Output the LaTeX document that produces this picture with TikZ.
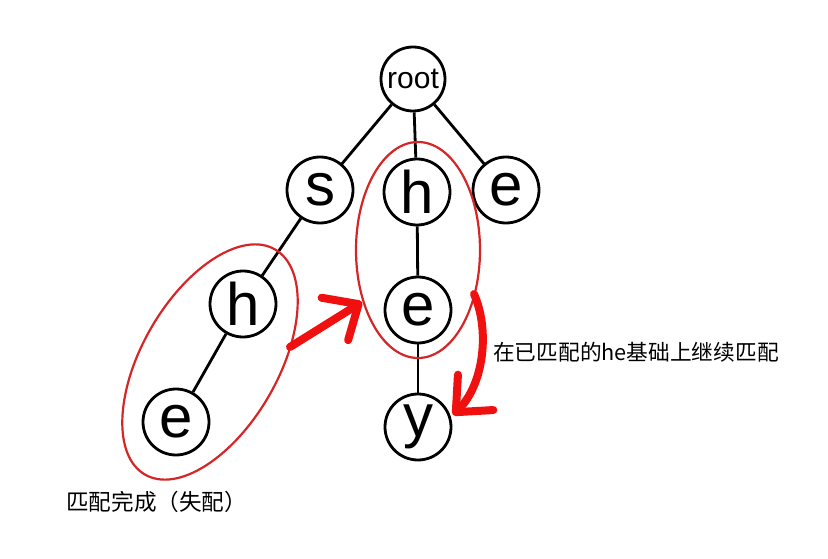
\documentclass[tikz,border=0pt]{standalone}
\usepackage{fontspec}
\setmainfont{Liberation Sans}
\newfontfamily\cjk{Noto Sans CJK SC}
\usetikzlibrary{arrows.meta}

\definecolor{ringred}{RGB}{212,38,38}
\definecolor{arrowred}{RGB}{240,16,16}

\tikzset{
  letter/.style={circle, draw, line width=2.8pt, minimum size=66pt, inner sep=0pt,
    font=\fontsize{60}{60}\selectfont},
  edge/.style={line width=2.8pt},
  ring/.style={draw=ringred, line width=2.2pt},
  jump/.style={draw=arrowred, line width=8pt, line cap=round,
    -{Straight Barb[length=28pt,width=50pt,round]}},
  note/.style={font=\cjk\fontsize{21.7}{26}\selectfont, anchor=west, inner sep=0pt}
}

\begin{document}
\begin{tikzpicture}[x=1pt,y=-1pt]
\useasboundingbox (0,0) rectangle (828,559);

%trie nodes
\node[letter, minimum size=64pt, font=\fontsize{30}{30}\selectfont] (root) at (413,79) {root};
\node[letter] (s) at (320,190) {s};
\node[letter] (h) at (417,192) {h};
\node[letter] (e) at (506,190) {e};
\node[letter] (sh) at (243,304) {h};
\node[letter] (she) at (176,422) {e};
\node[letter] (he) at (418,310) {e};
\node[letter] (hey) at (418,427) {y};

%edges
\draw[edge] (root) -- (s);
\draw[edge] (root) -- (h);
\draw[edge] (root) -- (e);
\draw[edge] (s) -- (sh);
\draw[edge] (sh) -- (she);
\draw[edge] (h) -- (he);
\draw[edge] (he) -- (hey);

%matched parts
\draw[ring, rotate around={-30:(210,362)}] (210,362) ellipse [x radius=68, y radius=130];
\draw[ring] (418,250) ellipse [x radius=62, y radius=108];

%jumps
\coordinate (fail) at (290,347);
\coordinate (back) at (362,302);
\coordinate (go) at (474,294);
\coordinate (land) at (453,415);
\draw[jump] (fail) -- (back);
\draw[jump] (go) .. controls (490,330) and (484,384) .. (land);

%labels
\node[note] (hint) at (493,352) {在已匹配的he基础上继续匹配};
\node[note, font=\cjk\fontsize{22.6}{26}\selectfont] (done) at (66,502) {匹配完成（失配）};

\end{tikzpicture}
\end{document}
